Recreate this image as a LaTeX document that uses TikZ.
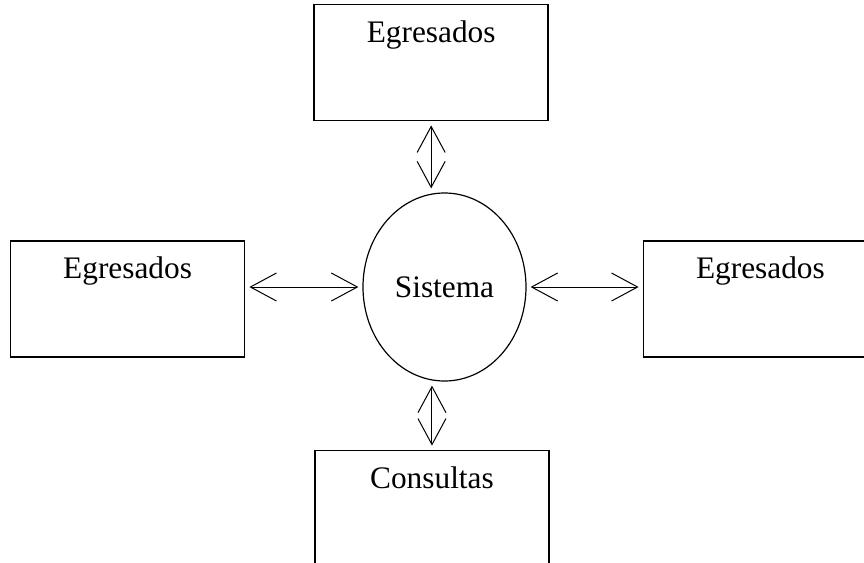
\documentclass[tikz,border=0pt]{standalone}
\usepackage{fontspec}
\setmainfont{Liberation Serif}
\usetikzlibrary{shapes,arrows.meta,positioning}
\tikzset{
    %Define standard arrow tip
    >={Straight Barb[length=19.5pt,width=21pt]},
    %Define style for boxes
    entity/.style={
           rectangle,
           draw=black,
           line width=1.2pt,
           minimum width=175.5pt,
           minimum height=87pt,
           inner ysep=12.75pt,
           text height=15.6pt,
           text depth=45.9pt,
           font=\fontsize{23.5pt}{28pt}\selectfont},
    % Define style for the system
    system/.style={
           ellipse,
           draw=black,
           line width=0.9pt,
           minimum width=122.25pt,
           minimum height=141pt,
           inner sep=0pt,
           font=\fontsize{23.5pt}{28pt}\selectfont},
    % Define arrow style
    flow/.style={
           <->,
           line width=0.75pt,
           shorten <=3pt,
           shorten >=3pt,
           }
}

\begin{document}
\begin{tikzpicture}[node distance = 3cm, auto]
    \useasboundingbox (-333.375pt,215.25pt) rectangle (314.625pt,-206.25pt);
    \node [system] (sis) at (0,0) {Sistema};
    \node [entity, above=53.25pt of sis, xshift=-10pt] (egrTop) {Egresados};
    \node [entity, left=87.75pt of sis, yshift=-9pt] (egrLeft) {Egresados};
    \node [entity, right=87pt of sis, yshift=-9pt] (egrRight) {Egresados};
    \node [entity, below=51pt of sis, xshift=-9.4pt] (cons) {Consultas};

	\path (egrTop.south) edge[flow] (egrTop.south |- sis.north);
	\path (sis.west -| egrLeft.east) edge[flow] (sis.west);
	\path (sis.east) edge[flow] (sis.east -| egrRight.west);
	\path (sis.south -| cons.north) edge[flow] (cons.north);
\end{tikzpicture}
\end{document}
